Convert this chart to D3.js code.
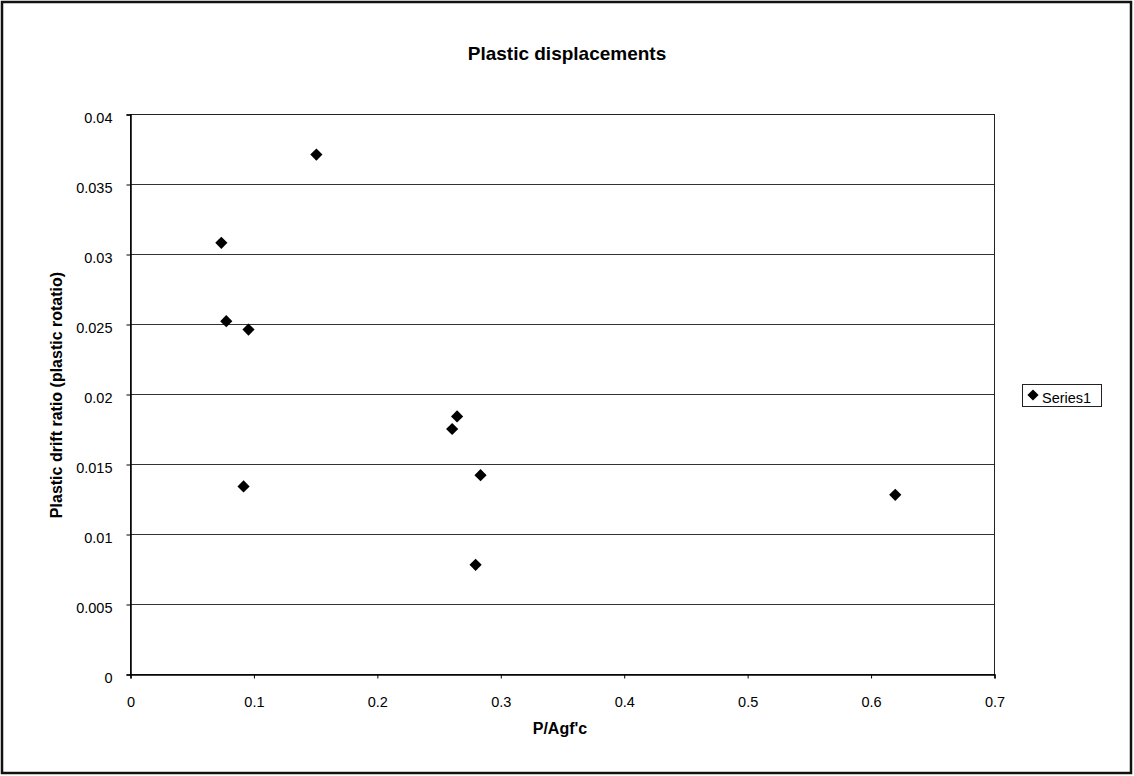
<!DOCTYPE html>
<html>
<head>
<meta charset="utf-8">
<script src="https://cdn.jsdelivr.net/npm/d3@7"></script>
<style>
  html, body { margin: 0; padding: 0; background: #fff; }
  svg { display: block; font-family: "Liberation Sans", Arial, sans-serif; }
</style>
</head>
<body>
<svg id="chart" width="1134" height="776"></svg>
<script>
// Axial load ratio vs. plastic drift ratio
const loadRatio = [0.151, 0.074, 0.078, 0.096, 0.092, 0.261, 0.265, 0.284, 0.280, 0.620];
const driftRatio = [0.0371, 0.0308, 0.0252, 0.0246, 0.0134, 0.0175, 0.0184, 0.0142, 0.0078, 0.0128];
const xTicks = [0, 0.1, 0.2, 0.3, 0.4, 0.5, 0.6, 0.7];
const yTicks = [0, 0.005, 0.01, 0.015, 0.02, 0.025, 0.03, 0.035, 0.04];
const seriesName = "Series1";

const svg = d3.select("#chart");
const W = 1134, H = 776;
const plot = { left: 130, right: 994, top: 114, bottom: 674 };
const font = "Liberation Sans, Arial, sans-serif";

// outer frame
svg.append("rect")
  .attr("x", 2).attr("y", 2).attr("width", W - 5).attr("height", H - 5)
  .attr("fill", "#fff").attr("stroke", "#111").attr("stroke-width", 2.5);

const x = d3.scaleLinear().domain([0, 0.7]).range([plot.left, plot.right]);
const y = d3.scaleLinear().domain([0, 0.04]).range([plot.bottom, plot.top]);

// horizontal gridlines
svg.append("g")
  .selectAll("line")
  .data(yTicks.slice(1))
  .join("line")
  .attr("x1", plot.left).attr("x2", plot.right)
  .attr("y1", d => Math.round(y(d)) + 0.5).attr("y2", d => Math.round(y(d)) + 0.5)
  .attr("stroke", "#333").attr("stroke-width", 1);

// plot area border
svg.append("rect")
  .attr("x", plot.left + 0.5).attr("y", plot.top + 0.5)
  .attr("width", plot.right - plot.left).attr("height", plot.bottom - plot.top)
  .attr("fill", "none").attr("stroke", "#222").attr("stroke-width", 1);

// x axis
const xAxis = svg.append("g")
  .attr("transform", `translate(0.5,${plot.bottom + 0.5})`)
  .call(d3.axisBottom(x).tickValues(xTicks).tickSize(4)
    .tickFormat(d => d3.format("")(d)));
xAxis.select(".domain").attr("stroke", "#000").attr("stroke-width", 1.5);
xAxis.selectAll(".tick line").attr("stroke", "#000");
xAxis.selectAll("text")
  .attr("y", 32).attr("dy", null)
  .attr("font-size", 14.5).attr("fill", "#000").attr("font-family", font);

// y axis
const yAxis = svg.append("g")
  .attr("transform", `translate(${plot.left + 0.5},0.5)`)
  .call(d3.axisLeft(y).tickValues(yTicks).tickSize(4)
    .tickFormat(d => d3.format("")(+d.toFixed(3))));
yAxis.select(".domain").attr("stroke", "#000").attr("stroke-width", 1.5);
yAxis.selectAll(".tick line").attr("stroke", "#000");
yAxis.selectAll("text")
  .attr("x", -18).attr("dy", "0.55em")
  .attr("font-size", 14.5).attr("fill", "#000").attr("font-family", font);

// title
svg.append("text")
  .attr("x", 567).attr("y", 60)
  .attr("text-anchor", "middle")
  .attr("font-size", 19).attr("font-weight", "bold")
  .text("Plastic displacements");

// axis titles
svg.append("text")
  .attr("x", 560).attr("y", 734)
  .attr("text-anchor", "middle")
  .attr("font-size", 16).attr("font-weight", "bold")
  .text("P/Agf'c");

svg.append("text")
  .attr("transform", `translate(62,${(plot.top + plot.bottom) / 2 + 1}) rotate(-90)`)
  .attr("text-anchor", "middle")
  .attr("font-size", 16).attr("font-weight", "bold")
  .text("Plastic drift ratio (plastic rotatio)");

// data markers (diamonds)
const diamond = d3.symbol().type(d3.symbolDiamond2).size(95);
svg.append("g")
  .selectAll("path")
  .data(loadRatio.map((v, i) => [v, driftRatio[i]]))
  .join("path")
  .attr("transform", d => `translate(${x(d[0])},${y(d[1])})`)
  .attr("d", diamond)
  .attr("fill", "#000");

// legend
const lg = svg.append("g");
lg.append("rect")
  .attr("x", 1022.5).attr("y", 384.5).attr("width", 79).attr("height", 22)
  .attr("fill", "#fff").attr("stroke", "#222").attr("stroke-width", 1);
lg.append("path")
  .attr("transform", "translate(1033,395)")
  .attr("d", d3.symbol().type(d3.symbolDiamond2).size(80))
  .attr("fill", "#000");
lg.append("text")
  .attr("x", 1042).attr("y", 403)
  .attr("font-size", 14.5).attr("font-family", font)
  .text(seriesName);
</script>
</body>
</html>
